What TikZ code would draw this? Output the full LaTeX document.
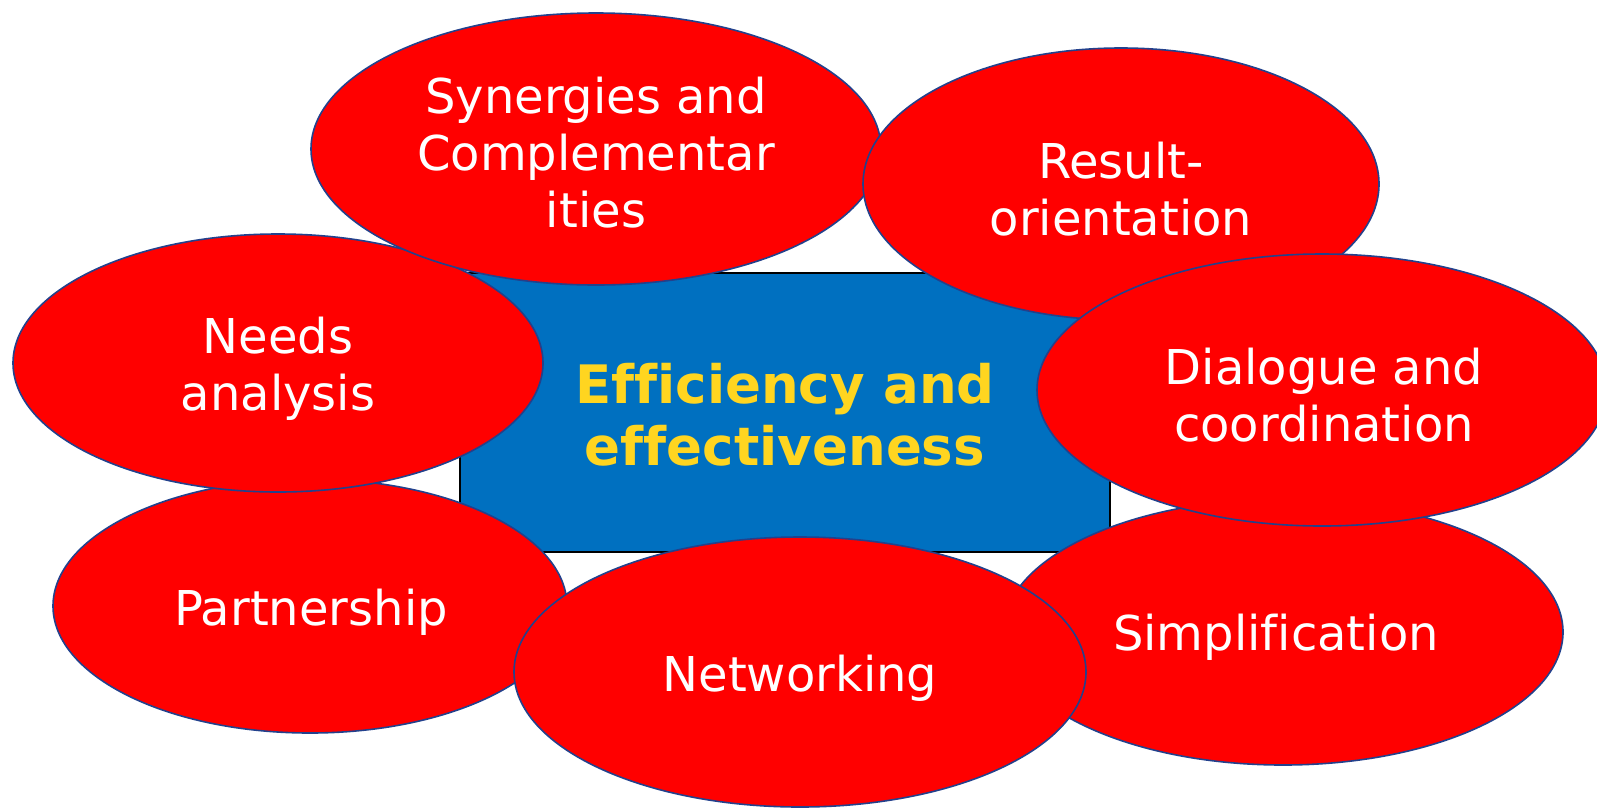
\documentclass[tikz,border=0pt]{standalone}
\usepackage{fontspec}
\setmainfont[Ligatures=NoCommon]{DejaVu Sans}
\usetikzlibrary{shapes.geometric}
\definecolor{ellred}{HTML}{FF0000}
\definecolor{ellborder}{HTML}{23418C}
\definecolor{boxblue}{HTML}{0070C0}
\definecolor{txtyellow}{HTML}{FFD520}
\tikzset{
  bubble/.style={ellipse, draw=ellborder, line width=1.6pt, fill=ellred, inner sep=0pt},
  lbl/.style={text=white, align=center, inner sep=0pt, font=\fontsize{48}{57}\selectfont},
  core/.style={rectangle, draw=black, line width=1.4pt, fill=boxblue, inner sep=0pt},
  corelbl/.style={text=txtyellow, align=center, inner sep=0pt, font=\bfseries\fontsize{53}{62}\selectfont}
}
\begin{document}
\begin{tikzpicture}[x=1pt,y=-1pt]
\useasboundingbox (0,0) rectangle (1597,807);
\begin{scope}
\clip (0,0) rectangle (1597,807);
\node[core, minimum width=650pt, minimum height=279pt] (box) at (785,412.5) {};
\node[corelbl] (boxt) at ([yshift=-2pt]box.center) {Efficiency and\\effectiveness};
\node[bubble, minimum width=514pt, minimum height=254pt] (part) at (310,606) {};
\node[lbl] (partt) at ([xshift=1pt,yshift=-6pt]part.center) {Partnership};
\node[bubble, minimum width=530pt, minimum height=258pt] (needs) at (278,363) {};
\node[lbl] (needst) at ([yshift=-6pt]needs.center) {Needs\\analysis};
\node[bubble, minimum width=570pt, minimum height=272pt] (syn) at (596,149) {};
\node[lbl] (synt) at ([yshift=-4pt]syn.center) {Synergies and\\Complementar\\ities};
\node[bubble, minimum width=516pt, minimum height=272pt] (res) at (1121,184) {};
\node[lbl] (rest) at ([yshift=-5pt]res.center) {Result-\\orientation};
\node[bubble, minimum width=560pt, minimum height=266pt] (simp) at (1283,632) {};
\node[lbl] (simpt) at ([xshift=-7pt,yshift=-5pt]simp.center) {Simplification};
\node[bubble, minimum width=570pt, minimum height=272pt] (dia) at (1322,390) {};
\node[lbl] (diat) at ([xshift=2pt,yshift=-5pt]dia.center) {Dialogue and\\coordination};
\node[bubble, minimum width=572pt, minimum height=270pt] (net) at (800,672) {};
\node[lbl] (nett) at ([yshift=-6pt]net.center) {Networking};
\end{scope}
\end{tikzpicture}
\end{document}
